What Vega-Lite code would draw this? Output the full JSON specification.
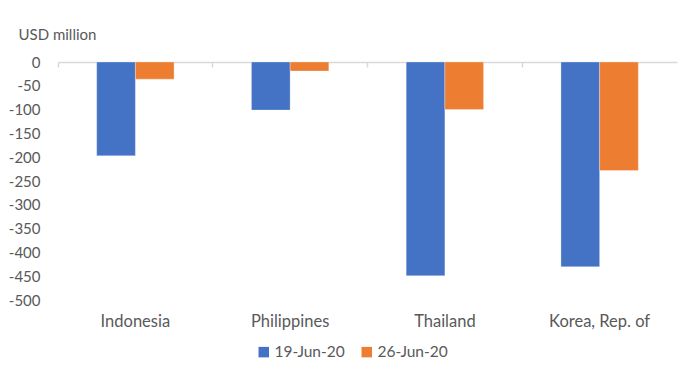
{
  "$schema": "https://vega.github.io/schema/vega-lite/v6.json",
  "width": 619,
  "height": 238,
  "autosize": {"type": "none"},
  "padding": {"left": 58, "top": 62, "right": 14, "bottom": 73},
  "background": "white",
  "config": {
    "view": {"stroke": null},
    "font": "Lato",
    "axis": {"labelFont": "Lato", "titleFont": "Lato", "labelColor": "#595959", "titleColor": "#595959", "labelFontSize": 15, "titleFontSize": 15, "grid": false},
    "legend": {"labelFont": "Lato", "labelColor": "#595959", "labelFontSize": 15.5}
  },
  "data": {
    "values": [
      {"country": "Indonesia", "date": "19-Jun-20", "value": -197},
      {"country": "Indonesia", "date": "26-Jun-20", "value": -36},
      {"country": "Philippines", "date": "19-Jun-20", "value": -101},
      {"country": "Philippines", "date": "26-Jun-20", "value": -19},
      {"country": "Thailand", "date": "19-Jun-20", "value": -449},
      {"country": "Thailand", "date": "26-Jun-20", "value": -100},
      {"country": "Korea, Rep. of", "date": "19-Jun-20", "value": -430},
      {"country": "Korea, Rep. of", "date": "26-Jun-20", "value": -228}
    ]
  },
  "layer": [
    {
      "mark": {"type": "bar", "stroke": "white", "strokeWidth": 0.5, "strokeOpacity": 0.6},
      "encoding": {
        "x": {
          "field": "country", "type": "nominal", "sort": null,
          "scale": {"paddingInner": 0, "paddingOuter": 0},
          "axis": {"orient": "bottom", "title": null, "domain": false, "ticks": false, "labelPadding": 13, "labelAngle": 0, "labelFontSize": 16.5}
        },
        "xOffset": {"field": "date", "type": "nominal", "scale": {"paddingInner": 0, "paddingOuter": 1.095}},
        "y": {
          "field": "value", "type": "quantitative",
          "scale": {"domain": [-500, 0], "nice": false},
          "axis": {"tickCount": 10, "labelOverlap": false, "labelFlush": false, "labelExpr": "(datum.value < 0 ? '-' : '') + abs(datum.value)", "domain": false, "ticks": false, "labelPadding": 18, "title": "USD million", "titleAngle": 0, "titleX": -40, "titleY": -28, "titleAlign": "left", "titleBaseline": "middle", "titleFontWeight": "normal"}
        },
        "color": {
          "field": "date", "type": "nominal",
          "scale": {"domain": ["19-Jun-20", "26-Jun-20"], "range": ["#4472C4", "#ED7D31"]},
          "legend": {"title": null, "orient": "none", "direction": "horizontal", "legendX": 198, "legendY": 282, "symbolType": "square", "symbolSize": 110, "symbolStrokeWidth": 0, "columnPadding": 14, "labelOffset": 3}
        }
      }
    },
    {
      "mark": {"type": "tick", "opacity": 0},
      "encoding": {
        "x": {
          "field": "country", "type": "nominal", "sort": null,
          "axis": {"orient": "top", "title": null, "labels": false, "domain": true, "domainColor": "#D9D9D9", "domainWidth": 1.5, "ticks": true, "tickColor": "#D9D9D9", "tickSize": -5, "tickWidth": 1.5, "bandPosition": 0}
        },
        "y": {"datum": 0}
      }
    }
  ],
  "resolve": {"axis": {"x": "independent"}}
}
